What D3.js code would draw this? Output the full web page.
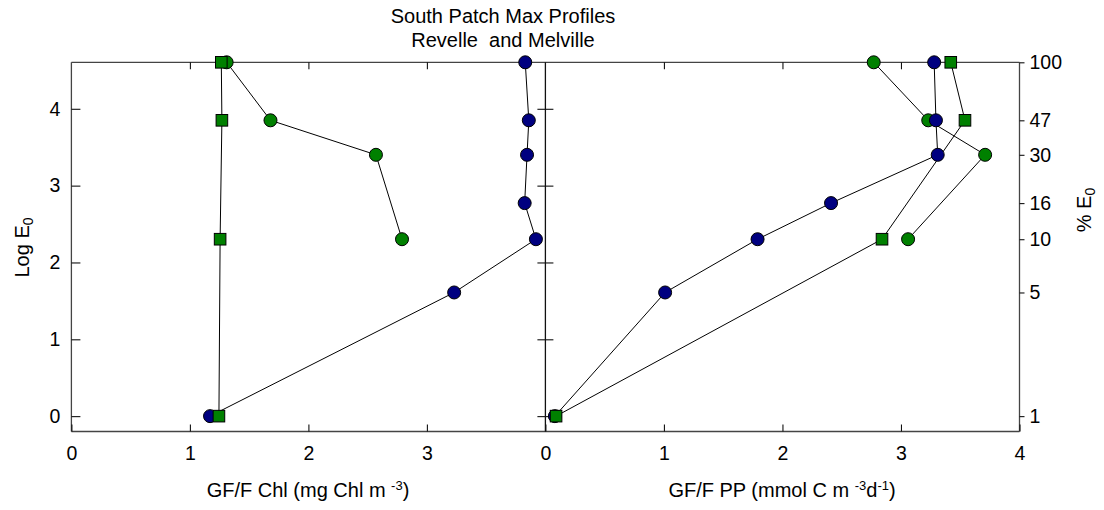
<!DOCTYPE html>
<html>
<head>
<meta charset="utf-8">
<script src="https://cdn.jsdelivr.net/npm/d3@7"></script>
<style>
  html, body { margin: 0; padding: 0; background: #fff; }
  svg { display: block; }
  text { font-family: "Liberation Sans", Arial, sans-serif; fill: #000; white-space: pre; }
</style>
</head>
<body>
<svg id="chart" width="1104" height="510"></svg>
<script>
// ---- data ----
const pctLevels = [100, 47, 30, 16, 10, 5, 1];          // % E0 of each sample depth
const circGreenPct = [100, 47, 30, 10];
const sqGreenPct = [100, 47, 10, 1];

const chlBlue = [3.83, 3.86, 3.845, 3.825, 3.92, 3.23, 1.17];
const chlGreenCirc = [1.31, 1.68, 2.57, 2.79];
const chlGreenSq = [1.265, 1.27, 1.255, 1.245];

const ppBlue = [3.28, 3.295, 3.31, 2.41, 1.79, 1.01, 0.08];
const ppGreenCirc = [2.77, 3.23, 3.71, 3.06];
const ppGreenSq = [3.42, 3.54, 2.84, 0.09];

const logTicks = [0, 1, 2, 3, 4];
const chlTicks = [0, 1, 2, 3];
const ppTicks = [0, 1, 2, 3, 4];
const innerXTicks = [1, 2, 3];
const pctTicks = [100, 47, 30, 16, 10, 5, 1];

// ---- layout ----
const svg = d3.select("#chart");
const L = 71.4, M = 545.4, R = 1019.5, T = 62.3, B = 431.5;
const xL = d3.scaleLinear().domain([0, 4]).range([L, M]);
const xR = d3.scaleLinear().domain([0, 4]).range([M, R]);
const y = d3.scaleLinear().domain([-0.2, Math.log(100)]).range([B, T]);
const yPct = p => y(Math.log(p));

const BLUE = "#000080", GREEN = "#008000";
const FS = 19.5;
const TFS = 20;

// title
svg.append("text").attr("x", 503).attr("y", 16).attr("dy", "0.35em")
  .attr("text-anchor", "middle").style("font-size", "20px").text("South Patch Max Profiles");
svg.append("text").attr("x", 503).attr("y", 39.5).attr("dy", "0.35em")
  .attr("text-anchor", "middle").style("font-size", "20px").text("Revelle  and Melville");

// frame
const frame = svg.append("g").attr("stroke", "#444").attr("stroke-width", 1.3).attr("fill", "none");
frame.append("line").attr("x1", L).attr("x2", R).attr("y1", T).attr("y2", T);
frame.append("line").attr("x1", L).attr("x2", R).attr("y1", B).attr("y2", B);
frame.append("line").attr("x1", L).attr("x2", L).attr("y1", T).attr("y2", B);
frame.append("line").attr("x1", R).attr("x2", R).attr("y1", T).attr("y2", B);
frame.append("line").attr("x1", M).attr("x2", M).attr("y1", T).attr("y2", B).attr("stroke", "#111");

function styleAxis(g) {
  g.select(".domain").remove();
  g.selectAll(".tick line").attr("stroke", "#111").attr("stroke-width", 1.1);
  g.selectAll("text").style("font-size", FS + "px").attr("fill", "#000")
    .style("font-family", "'Liberation Sans', Arial, sans-serif");
}

// bottom axes (labels + inward ticks)
svg.append("g").attr("transform", `translate(0,${B})`)
  .call(d3.axisBottom(xL).tickValues(chlTicks).tickFormat(d3.format("d")).tickSizeInner(-7).tickSizeOuter(0).tickPadding(15))
  .call(styleAxis);
svg.append("g").attr("transform", `translate(0,${B})`)
  .call(d3.axisBottom(xR).tickValues(ppTicks).tickFormat(d3.format("d")).tickSizeInner(-7).tickSizeOuter(0).tickPadding(15))
  .call(styleAxis);
// top inward ticks
[xL, xR].forEach(sc => {
  svg.append("g").attr("transform", `translate(0,${T})`)
    .call(d3.axisTop(sc).tickValues(innerXTicks).tickFormat("").tickSizeInner(-7).tickSizeOuter(0))
    .call(styleAxis);
});
// left y axis
svg.append("g").attr("transform", `translate(${L},0)`)
  .call(d3.axisLeft(y).tickValues(logTicks).tickFormat(d3.format("d")).tickSizeInner(-9).tickSizeOuter(0).tickPadding(11))
  .call(styleAxis);
// divider ticks (both sides)
svg.append("g").attr("transform", `translate(${M},0)`)
  .call(d3.axisLeft(y).tickValues(logTicks).tickFormat("").tickSizeInner(8).tickSizeOuter(0))
  .call(styleAxis);
svg.append("g").attr("transform", `translate(${M},0)`)
  .call(d3.axisRight(y).tickValues(logTicks).tickFormat("").tickSizeInner(8).tickSizeOuter(0))
  .call(styleAxis);
// right % E0 axis
svg.append("g").attr("transform", `translate(${R},0)`)
  .call(d3.axisRight(y).tickValues(pctTicks.map(p => Math.log(p))).tickFormat((d, i) => pctTicks[i]).tickSizeInner(5).tickSizeOuter(0).tickPadding(5))
  .call(styleAxis);

// axis titles
const t1 = svg.append("text").attr("x", 308).attr("y", 497)
  .attr("text-anchor", "middle").style("font-size", TFS + "px");
t1.append("tspan").text("GF/F Chl (mg Chl m ");
t1.append("tspan").attr("dy", -7).style("font-size", "13px").text("-3");
t1.append("tspan").attr("dy", 7).text(")");

const t2 = svg.append("text").attr("x", 782).attr("y", 497)
  .attr("text-anchor", "middle").style("font-size", TFS + "px");
t2.append("tspan").text("GF/F PP (mmol C m ");
t2.append("tspan").attr("dy", -7).style("font-size", "13px").text("-3");
t2.append("tspan").attr("dy", 7).text("d");
t2.append("tspan").attr("dy", -7).style("font-size", "13px").text("-1");
t2.append("tspan").attr("dy", 7).text(")");

const t3 = svg.append("text").attr("transform", "translate(28.5,247.5) rotate(-90)")
  .attr("text-anchor", "middle").style("font-size", TFS + "px");
t3.append("tspan").text("Log E");
t3.append("tspan").attr("dy", 4).style("font-size", "14px").text("0");

const t4 = svg.append("text").attr("transform", "translate(1091,210) rotate(-90)")
  .attr("text-anchor", "middle").style("font-size", TFS + "px");
t4.append("tspan").text("% E");
t4.append("tspan").attr("dy", 4).style("font-size", "14px").text("0");

// ---- series ----
function series(xs, pcts, vals, shape, color) {
  const pts = vals.map((v, i) => [xs(v), yPct(pcts[i])]);
  return { pts, shape, color };
}
const all = [
  series(xL, circGreenPct, chlGreenCirc, "circle", GREEN),
  series(xL, pctLevels, chlBlue, "circle", BLUE),
  series(xL, sqGreenPct, chlGreenSq, "square", GREEN),
  series(xR, circGreenPct, ppGreenCirc, "circle", GREEN),
  series(xR, pctLevels, ppBlue, "circle", BLUE),
  series(xR, sqGreenPct, ppGreenSq, "square", GREEN),
];
const line = d3.line();
const gl = svg.append("g");
all.forEach(s => gl.append("path").attr("d", line(s.pts)).attr("fill", "none").attr("stroke", "#000").attr("stroke-width", 1));
const gm = svg.append("g");
all.forEach(s => {
  s.pts.forEach(p => {
    if (s.shape === "circle") {
      gm.append("circle").attr("cx", p[0]).attr("cy", p[1]).attr("r", 6.5)
        .attr("fill", s.color).attr("stroke", "#000").attr("stroke-width", 1);
    } else {
      gm.append("rect").attr("x", p[0] - 5.8).attr("y", p[1] - 5.8).attr("width", 11.6).attr("height", 11.6)
        .attr("fill", s.color).attr("stroke", "#000").attr("stroke-width", 1);
    }
  });
});
</script>
</body>
</html>
